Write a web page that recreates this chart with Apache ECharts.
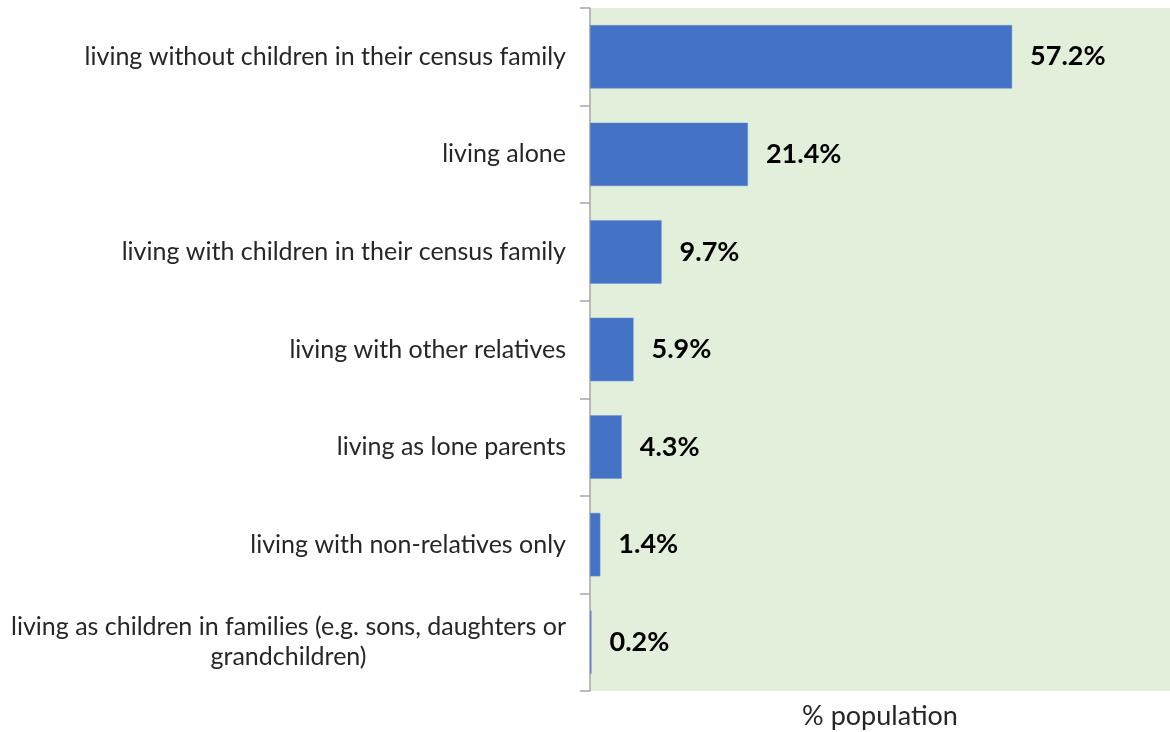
<!DOCTYPE html>
<html>
<head>
<meta charset="utf-8">
<script src="https://cdn.jsdelivr.net/npm/echarts@6/dist/echarts.min.js"></script>
<style>
  html, body { margin: 0; padding: 0; background: #ffffff; }
  #chart { width: 1170px; height: 732px; }
</style>
</head>
<body>
<div id="chart"></div>
<script>
// Living arrangements, share of population (%)
const categories = [
  'living without children in their census family',
  'living alone',
  'living with children in their census family',
  'living with other relatives',
  'living as lone parents',
  'living with non-relatives only',
  'living as children in families (e.g. sons, daughters or\ngrandchildren)'
];
const shares = [57.2, 21.4, 9.7, 5.9, 4.3, 1.4, 0.2];
const axisTitle = '% population';

const chart = echarts.init(document.getElementById('chart'), null, { renderer: 'canvas' });

// Wrapped category names: lines are centred on each other, block sits right-aligned
function categoryLabel(value) {
  const lines = value.split('\n');
  if (lines.length === 1) return value;
  return lines.map(l => '{c|' + l + '}').join('\n');
}

chart.setOption({
  animation: false,
  grid: {
    left: 590, top: 8, right: 0, bottom: 41,
    outerBoundsMode: 'none',
    containLabel: false,
    show: true, backgroundColor: '#e2efda', borderWidth: 0
  },
  xAxis: {
    type: 'value',
    min: 0,
    max: 78.6,
    name: axisTitle,
    nameLocation: 'middle',
    nameGap: 12,
    nameTextStyle: { fontFamily: 'Lato', fontSize: 27, color: '#262626' },
    axisLine: { show: false },
    axisTick: { show: false },
    axisLabel: { show: false },
    splitLine: { show: false }
  },
  yAxis: {
    type: 'category',
    inverse: true,
    data: categories,
    axisLine: { show: true, lineStyle: { color: '#a6a6a6', width: 1.5 } },
    axisTick: { show: true, length: 10, alignWithLabel: false, lineStyle: { color: '#a6a6a6', width: 1.5 } },
    axisLabel: {
      margin: 24,
      fontFamily: 'Lato',
      fontSize: 25,
      color: '#262626',
      align: 'right',
      lineHeight: 30,
      formatter: categoryLabel,
      rich: {
        c: {
          width: 555,
          align: 'center',
          fontFamily: 'Lato',
          fontSize: 25,
          color: '#262626',
          lineHeight: 30
        }
      }
    },
    splitLine: { show: false }
  },
  series: [{
    type: 'bar',
    data: shares,
    barCategoryGap: '35%',
    itemStyle: { color: '#4472c4', borderColor: '#6a8fd0', borderWidth: 0.5 },
    label: {
      show: true,
      position: 'right',
      distance: 18,
      formatter: p => p.value.toFixed(1) + '%',
      fontFamily: 'Lato',
      fontWeight: 'bold',
      fontSize: 27,
      color: '#000000'
    }
  }]
});
</script>
</body>
</html>
